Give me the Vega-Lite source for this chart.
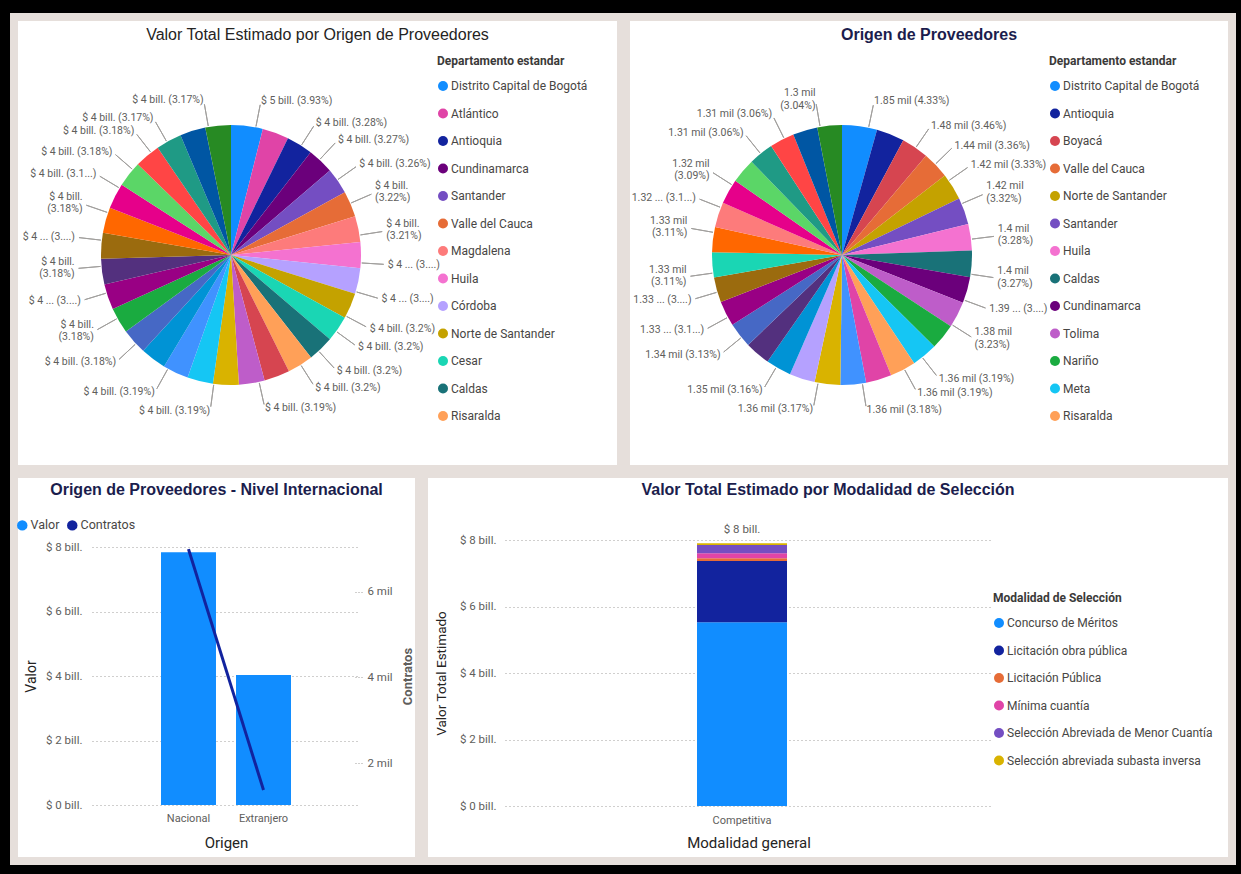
{
  "$schema": "https://vega.github.io/schema/vega-lite/v6.json",
  "background": "#000000",
  "padding": {"left": 10, "top": 13, "right": 5, "bottom": 9},
  "spacing": -3,
  "resolve": {"scale": {"color": "independent", "theta": "independent"}, "legend": {"color": "independent"}},
  "datasets": {
    "valor_dpto": [
      {"orden": 1, "departamento": "Distrito Capital de Bogotá", "valor": 4.991e12, "etiqueta": "$ 5 bill. (3.93%)"},
      {"orden": 2, "departamento": "Atlántico", "valor": 4.166e12, "etiqueta": "$ 4 bill. (3.28%)"},
      {"orden": 3, "departamento": "Antioquia", "valor": 4.153e12, "etiqueta": "$ 4 bill. (3.27%)"},
      {"orden": 4, "departamento": "Cundinamarca", "valor": 4.140e12, "etiqueta": "$ 4 bill. (3.26%)"},
      {"orden": 5, "departamento": "Santander", "valor": 4.089e12, "etiqueta": "$ 4 bill.\n(3.22%)"},
      {"orden": 6, "departamento": "Valle del Cauca", "valor": 4.077e12, "etiqueta": "$ 4 bill.\n(3.21%)"},
      {"orden": 7, "departamento": "Magdalena", "valor": 4.077e12, "etiqueta": "$ 4 ... (3....)"},
      {"orden": 8, "departamento": "Huila", "valor": 4.077e12, "etiqueta": "$ 4 ... (3....)"},
      {"orden": 9, "departamento": "Córdoba", "valor": 4.064e12, "etiqueta": "$ 4 bill. (3.2%)"},
      {"orden": 10, "departamento": "Norte de Santander", "valor": 4.064e12, "etiqueta": "$ 4 bill. (3.2%)"},
      {"orden": 11, "departamento": "Cesar", "valor": 4.064e12, "etiqueta": ""},
      {"orden": 12, "departamento": "Caldas", "valor": 4.064e12, "etiqueta": "$ 4 bill. (3.2%)"},
      {"orden": 13, "departamento": "Risaralda", "valor": 4.064e12, "etiqueta": "$ 4 bill. (3.2%)"},
      {"orden": 14, "departamento": "Boyacá", "valor": 4.051e12, "etiqueta": ""},
      {"orden": 15, "departamento": "Tolima", "valor": 4.051e12, "etiqueta": "$ 4 bill. (3.19%)"},
      {"orden": 16, "departamento": "Bolívar", "valor": 4.051e12, "etiqueta": "$ 4 bill. (3.19%)"},
      {"orden": 17, "departamento": "Meta", "valor": 4.051e12, "etiqueta": ""},
      {"orden": 18, "departamento": "Quindío", "valor": 4.051e12, "etiqueta": "$ 4 bill. (3.19%)"},
      {"orden": 19, "departamento": "Cauca", "valor": 4.051e12, "etiqueta": ""},
      {"orden": 20, "departamento": "Sucre", "valor": 4.039e12, "etiqueta": "$ 4 bill. (3.18%)"},
      {"orden": 21, "departamento": "Nariño", "valor": 4.039e12, "etiqueta": "$ 4 bill.\n(3.18%)"},
      {"orden": 22, "departamento": "La Guajira", "valor": 4.039e12, "etiqueta": "$ 4 ... (3....)"},
      {"orden": 23, "departamento": "Casanare", "valor": 4.039e12, "etiqueta": "$ 4 bill.\n(3.18%)"},
      {"orden": 24, "departamento": "Caquetá", "valor": 4.039e12, "etiqueta": "$ 4 ... (3....)"},
      {"orden": 25, "departamento": "Chocó", "valor": 4.039e12, "etiqueta": "$ 4 bill.\n(3.18%)"},
      {"orden": 26, "departamento": "Putumayo", "valor": 4.039e12, "etiqueta": "$ 4 bill. (3.1...)"},
      {"orden": 27, "departamento": "Arauca", "valor": 4.039e12, "etiqueta": "$ 4 bill. (3.18%)"},
      {"orden": 28, "departamento": "Guaviare", "valor": 4.039e12, "etiqueta": "$ 4 bill. (3.18%)"},
      {"orden": 29, "departamento": "Amazonas", "valor": 4.039e12, "etiqueta": ""},
      {"orden": 30, "departamento": "Vichada", "valor": 4.026e12, "etiqueta": "$ 4 bill. (3.17%)"},
      {"orden": 31, "departamento": "San Andrés", "valor": 4.026e12, "etiqueta": "$ 4 bill. (3.17%)"}
    ],
    "contratos_dpto": [
      {"orden": 1, "departamento": "Distrito Capital de Bogotá", "valor": 1849, "etiqueta": "1.85 mil (4.33%)"},
      {"orden": 2, "departamento": "Antioquia", "valor": 1477, "etiqueta": "1.48 mil (3.46%)"},
      {"orden": 3, "departamento": "Boyacá", "valor": 1435, "etiqueta": "1.44 mil (3.36%)"},
      {"orden": 4, "departamento": "Valle del Cauca", "valor": 1422, "etiqueta": "1.42 mil (3.33%)"},
      {"orden": 5, "departamento": "Norte de Santander", "valor": 1418, "etiqueta": "1.42 mil\n(3.32%)"},
      {"orden": 6, "departamento": "Santander", "valor": 1405, "etiqueta": ""},
      {"orden": 7, "departamento": "Huila", "valor": 1401, "etiqueta": "1.4 mil\n(3.28%)"},
      {"orden": 8, "departamento": "Caldas", "valor": 1396, "etiqueta": "1.4 mil\n(3.27%)"},
      {"orden": 9, "departamento": "Cundinamarca", "valor": 1388, "etiqueta": "1.39 ... (3....)"},
      {"orden": 10, "departamento": "Tolima", "valor": 1379, "etiqueta": "1.38 mil\n(3.23%)"},
      {"orden": 11, "departamento": "Nariño", "valor": 1366, "etiqueta": ""},
      {"orden": 12, "departamento": "Meta", "valor": 1362, "etiqueta": "1.36 mil (3.19%)"},
      {"orden": 13, "departamento": "Risaralda", "valor": 1362, "etiqueta": "1.36 mil (3.19%)"},
      {"orden": 14, "departamento": "Atlántico", "valor": 1358, "etiqueta": "1.36 mil (3.18%)"},
      {"orden": 15, "departamento": "Quindío", "valor": 1354, "etiqueta": ""},
      {"orden": 16, "departamento": "Bolívar", "valor": 1354, "etiqueta": "1.36 mil (3.17%)"},
      {"orden": 17, "departamento": "Córdoba", "valor": 1349, "etiqueta": "1.35 mil (3.16%)"},
      {"orden": 18, "departamento": "Cauca", "valor": 1341, "etiqueta": ""},
      {"orden": 19, "departamento": "Casanare", "valor": 1337, "etiqueta": "1.34 mil (3.13%)"},
      {"orden": 20, "departamento": "Sucre", "valor": 1332, "etiqueta": "1.33 ... (3.1...)"},
      {"orden": 21, "departamento": "La Guajira", "valor": 1332, "etiqueta": "1.33 ... (3....)"},
      {"orden": 22, "departamento": "Caquetá", "valor": 1328, "etiqueta": "1.33 mil\n(3.11%)"},
      {"orden": 23, "departamento": "Cesar", "valor": 1328, "etiqueta": ""},
      {"orden": 24, "departamento": "Chocó", "valor": 1328, "etiqueta": "1.33 mil\n(3.11%)"},
      {"orden": 25, "departamento": "Magdalena", "valor": 1324, "etiqueta": "1.32 ... (3.1...)"},
      {"orden": 26, "departamento": "Putumayo", "valor": 1319, "etiqueta": "1.32 mil\n(3.09%)"},
      {"orden": 27, "departamento": "Arauca", "valor": 1311, "etiqueta": ""},
      {"orden": 28, "departamento": "Amazonas", "valor": 1307, "etiqueta": "1.31 mil (3.06%)"},
      {"orden": 29, "departamento": "Guaviare", "valor": 1307, "etiqueta": "1.31 mil (3.06%)"},
      {"orden": 30, "departamento": "Vichada", "valor": 1302, "etiqueta": ""},
      {"orden": 31, "departamento": "San Andrés", "valor": 1298, "etiqueta": "1.3 mil\n(3.04%)"}
    ]
  },
  "vconcat": [
    {
      "hconcat": [
        {
          "width": 607,
          "height": 452,
          "title": {"text": "Valor Total Estimado por Origen de Proveedores", "fontWeight": "normal", "fontSize": 16, "color": "#252423", "offset": -26},
          "data": {"name": "valor_dpto"},
          "transform": [{"stack": "valor", "groupby": [], "sort": [{"field": "orden", "order": "ascending"}], "offset": "normalize", "as": ["v0", "v1"]}],
          "resolve": {"scale": {"theta": "independent"}},
          "layer": [
            {
              "mark": {"type": "arc", "outerRadius": 130},
              "encoding": {
                "x": {"value": 217},
                "y": {"value": 238},
                "theta": {"field": "v0", "type": "quantitative", "stack": null, "scale": {"domain": [0, 1]}},
                "theta2": {"field": "v1"},
                "color": {
                  "field": "departamento", "type": "nominal",
                  "scale": {
                    "domain": ["Distrito Capital de Bogotá","Atlántico","Antioquia","Cundinamarca","Santander","Valle del Cauca","Magdalena","Huila","Córdoba","Norte de Santander","Cesar","Caldas","Risaralda","Boyacá","Tolima","Bolívar","Meta","Quindío","Cauca","Sucre","Nariño","La Guajira","Casanare","Caquetá","Chocó","Putumayo","Arauca","Guaviare","Amazonas","Vichada","San Andrés"],
                    "range": ["#118DFF","#E044A7","#12239E","#6B007B","#744EC2","#E66C37","#FD7B7B","#F472D0","#B5A1FF","#C4A200","#1AD6B4","#197278","#FFA058","#D64550","#BE5DC9","#D9B300","#15C6F4","#4092FF","#0093D5","#4668C5","#1AAB40","#990084","#53307E","#9B6B0E","#FF6700","#E6008A","#5BD667","#FF4545","#1F9A85","#0056A3","#278A23"]
                  },
                  "legend": {"orient": "none", "legendX": 423, "legendY": 39, "title": "Departamento estandar", "values": ["Distrito Capital de Bogotá","Atlántico","Antioquia","Cundinamarca","Santander","Valle del Cauca","Magdalena","Huila","Córdoba","Norte de Santander","Cesar","Caldas","Risaralda"]}
                }
              }
            },
            {
              "transform": [{"filter": "datum.etiqueta != ''"}],
              "mark": {"type": "arc", "outerRadius": 153, "innerRadius": 131, "filled": false, "stroke": "#A19F9D", "strokeWidth": 1},
              "encoding": {
                "x": {"value": 217},
                "y": {"value": 238},
                "theta": {"field": "v0", "type": "quantitative", "stack": null, "scale": {"domain": [0, 0.0394, 0.0722, 0.1049, 0.1376, 0.1698, 0.2020, 0.2341, 0.2662, 0.2983, 0.3624, 0.3944, 0.4583, 0.4903, 0.5542, 0.6181, 0.6499, 0.6818, 0.7136, 0.7454, 0.7773, 0.8091, 0.8410, 0.8728, 0.9365, 0.9683], "range": [0.192, 0.571, 0.749, 0.956, 1.162, 1.417, 1.632, 1.857, 2.059, 2.199, 2.402, 2.576, 2.923, 3.274, 3.648, 3.962, 4.203, 4.416, 4.625, 4.826, 5.044, 5.253, 5.428, 5.620, 5.767, 6.109], "nice": false, "zero": false}},
                "theta2": {"field": "v0"}
              }
            },
            {
              "transform": [{"filter": "datum.etiqueta != '' && indexof(datum.etiqueta, '\\n') < 0 && datum.v0 + datum.v1 < 1"}],
              "mark": {"type": "text", "radius": 157, "align": "left", "baseline": "middle", "fontSize": 10.5, "color": "#605E5C", "lineBreak": "\n"},
              "encoding": {
                "x": {"value": 217},
                "y": {"value": 238},
                "theta": {"field": "v0", "type": "quantitative", "stack": null, "scale": {"domain": [0, 0.0394, 0.0722, 0.1049, 0.1376, 0.1698, 0.2020, 0.2341, 0.2662, 0.2983, 0.3624, 0.3944, 0.4583, 0.4903, 0.5542, 0.6181, 0.6499, 0.6818, 0.7136, 0.7454, 0.7773, 0.8091, 0.8410, 0.8728, 0.9365, 0.9683], "range": [0.192, 0.571, 0.749, 0.956, 1.162, 1.417, 1.632, 1.857, 2.059, 2.199, 2.402, 2.576, 2.923, 3.274, 3.648, 3.962, 4.203, 4.416, 4.625, 4.826, 5.044, 5.253, 5.428, 5.620, 5.767, 6.109], "nice": false, "zero": false}},
                "text": {"field": "etiqueta"}
              }
            },
            {
              "transform": [{"filter": "datum.etiqueta != '' && indexof(datum.etiqueta, '\\n') >= 0 && datum.v0 + datum.v1 < 1"}],
              "mark": {"type": "text", "radius": 157, "dy": -7, "align": "left", "baseline": "middle", "fontSize": 10.5, "color": "#605E5C", "lineBreak": "\n"},
              "encoding": {
                "x": {"value": 217},
                "y": {"value": 238},
                "theta": {"field": "v0", "type": "quantitative", "stack": null, "scale": {"domain": [0, 0.0394, 0.0722, 0.1049, 0.1376, 0.1698, 0.2020, 0.2341, 0.2662, 0.2983, 0.3624, 0.3944, 0.4583, 0.4903, 0.5542, 0.6181, 0.6499, 0.6818, 0.7136, 0.7454, 0.7773, 0.8091, 0.8410, 0.8728, 0.9365, 0.9683], "range": [0.192, 0.571, 0.749, 0.956, 1.162, 1.417, 1.632, 1.857, 2.059, 2.199, 2.402, 2.576, 2.923, 3.274, 3.648, 3.962, 4.203, 4.416, 4.625, 4.826, 5.044, 5.253, 5.428, 5.620, 5.767, 6.109], "nice": false, "zero": false}},
                "text": {"field": "etiqueta"}
              }
            },
            {
              "transform": [{"filter": "datum.etiqueta != '' && indexof(datum.etiqueta, '\\n') < 0 && datum.v0 + datum.v1 >= 1"}],
              "mark": {"type": "text", "radius": 157, "align": "right", "baseline": "middle", "fontSize": 10.5, "color": "#605E5C", "lineBreak": "\n"},
              "encoding": {
                "x": {"value": 217},
                "y": {"value": 238},
                "theta": {"field": "v0", "type": "quantitative", "stack": null, "scale": {"domain": [0, 0.0394, 0.0722, 0.1049, 0.1376, 0.1698, 0.2020, 0.2341, 0.2662, 0.2983, 0.3624, 0.3944, 0.4583, 0.4903, 0.5542, 0.6181, 0.6499, 0.6818, 0.7136, 0.7454, 0.7773, 0.8091, 0.8410, 0.8728, 0.9365, 0.9683], "range": [0.192, 0.571, 0.749, 0.956, 1.162, 1.417, 1.632, 1.857, 2.059, 2.199, 2.402, 2.576, 2.923, 3.274, 3.648, 3.962, 4.203, 4.416, 4.625, 4.826, 5.044, 5.253, 5.428, 5.620, 5.767, 6.109], "nice": false, "zero": false}},
                "text": {"field": "etiqueta"}
              }
            },
            {
              "transform": [{"filter": "datum.etiqueta != '' && indexof(datum.etiqueta, '\\n') >= 0 && datum.v0 + datum.v1 >= 1"}],
              "mark": {"type": "text", "radius": 157, "dy": -7, "align": "right", "baseline": "middle", "fontSize": 10.5, "color": "#605E5C", "lineBreak": "\n"},
              "encoding": {
                "x": {"value": 217},
                "y": {"value": 238},
                "theta": {"field": "v0", "type": "quantitative", "stack": null, "scale": {"domain": [0, 0.0394, 0.0722, 0.1049, 0.1376, 0.1698, 0.2020, 0.2341, 0.2662, 0.2983, 0.3624, 0.3944, 0.4583, 0.4903, 0.5542, 0.6181, 0.6499, 0.6818, 0.7136, 0.7454, 0.7773, 0.8091, 0.8410, 0.8728, 0.9365, 0.9683], "range": [0.192, 0.571, 0.749, 0.956, 1.162, 1.417, 1.632, 1.857, 2.059, 2.199, 2.402, 2.576, 2.923, 3.274, 3.648, 3.962, 4.203, 4.416, 4.625, 4.826, 5.044, 5.253, 5.428, 5.620, 5.767, 6.109], "nice": false, "zero": false}},
                "text": {"field": "etiqueta"}
              }
            }
          ]
        },
        {
          "width": 606,
          "height": 452,
          "title": {"text": "Origen de Proveedores", "fontWeight": "bold", "fontSize": 16, "color": "#1B1D4D", "offset": -26},
          "data": {"name": "contratos_dpto"},
          "transform": [{"stack": "valor", "groupby": [], "sort": [{"field": "orden", "order": "ascending"}], "offset": "normalize", "as": ["v0", "v1"]}],
          "resolve": {"scale": {"theta": "independent"}},
          "layer": [
            {
              "mark": {"type": "arc", "outerRadius": 130},
              "encoding": {
                "x": {"value": 216},
                "y": {"value": 238},
                "theta": {"field": "v0", "type": "quantitative", "stack": null, "scale": {"domain": [0, 1]}},
                "theta2": {"field": "v1"},
                "color": {
                  "field": "departamento", "type": "nominal",
                  "scale": {
                    "domain": ["Distrito Capital de Bogotá","Atlántico","Antioquia","Cundinamarca","Santander","Valle del Cauca","Magdalena","Huila","Córdoba","Norte de Santander","Cesar","Caldas","Risaralda","Boyacá","Tolima","Bolívar","Meta","Quindío","Cauca","Sucre","Nariño","La Guajira","Casanare","Caquetá","Chocó","Putumayo","Arauca","Guaviare","Amazonas","Vichada","San Andrés"],
                    "range": ["#118DFF","#E044A7","#12239E","#6B007B","#744EC2","#E66C37","#FD7B7B","#F472D0","#B5A1FF","#C4A200","#1AD6B4","#197278","#FFA058","#D64550","#BE5DC9","#D9B300","#15C6F4","#4092FF","#0093D5","#4668C5","#1AAB40","#990084","#53307E","#9B6B0E","#FF6700","#E6008A","#5BD667","#FF4545","#1F9A85","#0056A3","#278A23"]
                  },
                  "legend": {"orient": "none", "legendX": 423, "legendY": 39, "title": "Departamento estandar", "values": ["Distrito Capital de Bogotá","Antioquia","Boyacá","Valle del Cauca","Norte de Santander","Santander","Huila","Caldas","Cundinamarca","Tolima","Nariño","Meta","Risaralda"]}
                }
              }
            },
            {
              "transform": [{"filter": "datum.etiqueta != ''"}],
              "mark": {"type": "arc", "outerRadius": 153, "innerRadius": 131, "filled": false, "stroke": "#A19F9D", "strokeWidth": 1},
              "encoding": {
                "x": {"value": 216},
                "y": {"value": 238},
                "theta": {"field": "v0", "type": "quantitative", "stack": null, "scale": {"domain": [0, 0.0434, 0.0781, 0.1118, 0.1453, 0.2116, 0.2445, 0.2773, 0.3099, 0.3744, 0.4064, 0.4384, 0.5021, 0.5339, 0.5971, 0.6285, 0.6598, 0.6910, 0.7535, 0.7846, 0.8157, 0.8775, 0.9082, 0.9695], "range": [0.206, 0.602, 0.799, 0.962, 1.166, 1.449, 1.719, 1.925, 2.136, 2.477, 2.642, 2.985, 3.327, 3.672, 4.026, 4.213, 4.423, 4.573, 4.887, 5.086, 5.280, 5.606, 5.822, 6.114], "nice": false, "zero": false}},
                "theta2": {"field": "v0"}
              }
            },
            {
              "transform": [{"filter": "datum.etiqueta != '' && indexof(datum.etiqueta, '\\n') < 0 && datum.v0 + datum.v1 < 1"}],
              "mark": {"type": "text", "radius": 157, "align": "left", "baseline": "middle", "fontSize": 10.5, "color": "#605E5C", "lineBreak": "\n"},
              "encoding": {
                "x": {"value": 216},
                "y": {"value": 238},
                "theta": {"field": "v0", "type": "quantitative", "stack": null, "scale": {"domain": [0, 0.0434, 0.0781, 0.1118, 0.1453, 0.2116, 0.2445, 0.2773, 0.3099, 0.3744, 0.4064, 0.4384, 0.5021, 0.5339, 0.5971, 0.6285, 0.6598, 0.6910, 0.7535, 0.7846, 0.8157, 0.8775, 0.9082, 0.9695], "range": [0.206, 0.602, 0.799, 0.962, 1.166, 1.449, 1.719, 1.925, 2.136, 2.477, 2.642, 2.985, 3.327, 3.672, 4.026, 4.213, 4.423, 4.573, 4.887, 5.086, 5.280, 5.606, 5.822, 6.114], "nice": false, "zero": false}},
                "text": {"field": "etiqueta"}
              }
            },
            {
              "transform": [{"filter": "datum.etiqueta != '' && indexof(datum.etiqueta, '\\n') >= 0 && datum.v0 + datum.v1 < 1"}],
              "mark": {"type": "text", "radius": 157, "dy": -7, "align": "left", "baseline": "middle", "fontSize": 10.5, "color": "#605E5C", "lineBreak": "\n"},
              "encoding": {
                "x": {"value": 216},
                "y": {"value": 238},
                "theta": {"field": "v0", "type": "quantitative", "stack": null, "scale": {"domain": [0, 0.0434, 0.0781, 0.1118, 0.1453, 0.2116, 0.2445, 0.2773, 0.3099, 0.3744, 0.4064, 0.4384, 0.5021, 0.5339, 0.5971, 0.6285, 0.6598, 0.6910, 0.7535, 0.7846, 0.8157, 0.8775, 0.9082, 0.9695], "range": [0.206, 0.602, 0.799, 0.962, 1.166, 1.449, 1.719, 1.925, 2.136, 2.477, 2.642, 2.985, 3.327, 3.672, 4.026, 4.213, 4.423, 4.573, 4.887, 5.086, 5.280, 5.606, 5.822, 6.114], "nice": false, "zero": false}},
                "text": {"field": "etiqueta"}
              }
            },
            {
              "transform": [{"filter": "datum.etiqueta != '' && indexof(datum.etiqueta, '\\n') < 0 && datum.v0 + datum.v1 >= 1"}],
              "mark": {"type": "text", "radius": 157, "align": "right", "baseline": "middle", "fontSize": 10.5, "color": "#605E5C", "lineBreak": "\n"},
              "encoding": {
                "x": {"value": 216},
                "y": {"value": 238},
                "theta": {"field": "v0", "type": "quantitative", "stack": null, "scale": {"domain": [0, 0.0434, 0.0781, 0.1118, 0.1453, 0.2116, 0.2445, 0.2773, 0.3099, 0.3744, 0.4064, 0.4384, 0.5021, 0.5339, 0.5971, 0.6285, 0.6598, 0.6910, 0.7535, 0.7846, 0.8157, 0.8775, 0.9082, 0.9695], "range": [0.206, 0.602, 0.799, 0.962, 1.166, 1.449, 1.719, 1.925, 2.136, 2.477, 2.642, 2.985, 3.327, 3.672, 4.026, 4.213, 4.423, 4.573, 4.887, 5.086, 5.280, 5.606, 5.822, 6.114], "nice": false, "zero": false}},
                "text": {"field": "etiqueta"}
              }
            },
            {
              "transform": [{"filter": "datum.etiqueta != '' && indexof(datum.etiqueta, '\\n') >= 0 && datum.v0 + datum.v1 >= 1"}],
              "mark": {"type": "text", "radius": 157, "dy": -7, "align": "right", "baseline": "middle", "fontSize": 10.5, "color": "#605E5C", "lineBreak": "\n"},
              "encoding": {
                "x": {"value": 216},
                "y": {"value": 238},
                "theta": {"field": "v0", "type": "quantitative", "stack": null, "scale": {"domain": [0, 0.0434, 0.0781, 0.1118, 0.1453, 0.2116, 0.2445, 0.2773, 0.3099, 0.3744, 0.4064, 0.4384, 0.5021, 0.5339, 0.5971, 0.6285, 0.6598, 0.6910, 0.7535, 0.7846, 0.8157, 0.8775, 0.9082, 0.9695], "range": [0.206, 0.602, 0.799, 0.962, 1.166, 1.449, 1.719, 1.925, 2.136, 2.477, 2.642, 2.985, 3.327, 3.672, 4.026, 4.213, 4.423, 4.573, 4.887, 5.086, 5.280, 5.606, 5.822, 6.114], "nice": false, "zero": false}},
                "text": {"field": "etiqueta"}
              }
            }
          ]
        }
      ],
      "spacing": 5,
      "bounds": "flush",
      "resolve": {"scale": {"color": "independent", "theta": "independent"}, "legend": {"color": "independent"}}
    },
    {
      "hconcat": [
        {
          "width": 405,
          "height": 387,
          "title": {"text": "Origen de Proveedores - Nivel Internacional", "fontWeight": "bold", "fontSize": 16, "color": "#1B1D4D", "offset": -24},
          "data": {"values": [
            {"origen": "Nacional", "valor": 7.84e12, "contratos": 7000},
            {"origen": "Extranjero", "valor": 4.03e12, "contratos": 1370}
          ]},
          "encoding": {
            "x": {
              "field": "origen", "type": "nominal", "sort": ["Nacional", "Extranjero"],
              "scale": {"range": [78, 346], "paddingInner": 0.267, "paddingOuter": 0.92},
              "axis": {"title": "Origen", "labelAngle": 0, "offset": -56, "labelPadding": 7, "titlePadding": 12, "titleFontSize": 15, "labelFontSize": 11}
            }
          },
          "layer": [
            {
              "mark": {"type": "bar"},
              "encoding": {
                "y": {
                  "field": "valor", "type": "quantitative",
                  "scale": {"domain": [0, 8e12], "range": [331, 73], "nice": false},
                  "axis": {"orient": "left", "offset": -76, "values": [0, 2e12, 4e12, 6e12, 8e12], "labelExpr": "'$ ' + format(datum.value / 1e12, 'd') + ' bill.'", "grid": true, "gridDash": [1, 3], "gridColor": "#A19F9D", "labelPadding": 8, "title": "Valor", "titlePadding": 7, "titleFontSize": 14}
                },
                "color": {
                  "datum": "Valor",
                  "scale": {"domain": ["Valor", "Contratos"], "range": ["#118DFF", "#12239E"]},
                  "legend": {"orient": "none", "legendX": 2, "legendY": 45, "direction": "horizontal", "title": null, "columnPadding": 6, "symbolSize": 110, "labelFontSize": 12.5}
                }
              }
            },
            {
              "mark": {"type": "line", "strokeWidth": 3},
              "encoding": {
                "y": {
                  "field": "contratos", "type": "quantitative",
                  "scale": {"domain": [1020, 7050], "range": [331, 73], "nice": false, "zero": false},
                  "axis": {"orient": "right", "offset": -64, "values": [2000, 4000, 6000], "labelExpr": "format(datum.value / 1000, 'd') + ' mil'", "ticks": true, "tickDash": [1, 2], "tickSize": 7, "tickColor": "#A19F9D", "labelPadding": 5, "title": "Contratos", "titleAngle": 270, "titleBaseline": "top", "titleFontWeight": "bold", "titleColor": "#605E5C", "titlePadding": 10, "titleFontSize": 13}
                },
                "color": {"datum": "Contratos"}
              }
            }
          ],
          "resolve": {"scale": {"y": "independent"}}
        },
        {
          "width": 808,
          "height": 387,
          "title": {"text": "Valor Total Estimado por Modalidad de Selección", "fontWeight": "bold", "fontSize": 16, "color": "#1B1D4D", "offset": -24},
          "data": {"values": [
            {"modalidad_general": "Competitiva", "modalidad": "Concurso de Méritos", "orden": 1, "valor": 5.53e12},
            {"modalidad_general": "Competitiva", "modalidad": "Licitación obra pública", "orden": 2, "valor": 1.84e12},
            {"modalidad_general": "Competitiva", "modalidad": "Licitación Pública", "orden": 3, "valor": 0.08e12},
            {"modalidad_general": "Competitiva", "modalidad": "Mínima cuantía", "orden": 4, "valor": 0.15e12},
            {"modalidad_general": "Competitiva", "modalidad": "Selección Abreviada de Menor Cuantía", "orden": 5, "valor": 0.25e12},
            {"modalidad_general": "Competitiva", "modalidad": "Selección abreviada subasta inversa", "orden": 6, "valor": 0.05e12}
          ]},
          "encoding": {
            "x": {
              "field": "modalidad_general", "type": "nominal",
              "scale": {"range": [81, 568], "paddingInner": 0, "paddingOuter": 1, "align": 0.48},
              "axis": {"title": "Modalidad general", "labelAngle": 0, "offset": -55, "labelPadding": 8, "titlePadding": 10, "titleFontSize": 15, "labelFontSize": 11}
            }
          },
          "layer": [
            {
              "mark": {"type": "bar", "width": 90},
              "encoding": {
                "y": {
                  "field": "valor", "type": "quantitative",
                  "scale": {"domain": [0, 8e12], "range": [332, 66], "nice": false},
                  "axis": {"orient": "left", "offset": -78, "values": [0, 2e12, 4e12, 6e12, 8e12], "labelExpr": "'$ ' + format(datum.value / 1e12, 'd') + ' bill.'", "grid": true, "gridDash": [1, 3], "gridColor": "#A19F9D", "labelPadding": 6, "title": "Valor Total Estimado", "titlePadding": 11, "titleFontSize": 13.5}
                },
                "color": {
                  "field": "modalidad", "type": "nominal",
                  "scale": {"domain": ["Concurso de Méritos", "Licitación obra pública", "Licitación Pública", "Mínima cuantía", "Selección Abreviada de Menor Cuantía", "Selección abreviada subasta inversa"], "range": ["#118DFF", "#12239E", "#E66C37", "#E044A7", "#744EC2", "#D9B300"]},
                  "legend": {"orient": "none", "legendX": 569, "legendY": 119, "title": "Modalidad de Selección", "labelLimit": 320}
                },
                "order": {"field": "orden", "type": "quantitative"}
              }
            },
            {
              "transform": [{"aggregate": [{"op": "sum", "field": "valor", "as": "total"}], "groupby": ["modalidad_general"]}],
              "mark": {"type": "text", "dy": -13, "baseline": "middle", "fontSize": 11.5, "color": "#605E5C"},
              "encoding": {
                "y": {"field": "total", "type": "quantitative", "title": "Valor Total Estimado"},
                "text": {"value": "$ 8 bill."}
              }
            }
          ]
        }
      ],
      "spacing": 5,
      "bounds": "flush",
      "resolve": {"scale": {"color": "independent"}, "legend": {"color": "independent"}}
    }
  ],
  "config": {
    "view": {"fill": "#FFFFFF", "stroke": "#E6DFDB", "strokeWidth": 8},
    "font": "Roboto",
    "title": {"font": "Liberation Sans", "anchor": "middle"},
    "axis": {"labelFont": "Roboto", "labelFontSize": 11.5, "labelColor": "#605E5C", "titleFont": "Roboto", "titleFontWeight": "normal", "titleColor": "#252423", "domain": false, "ticks": false},
    "legend": {"labelFont": "Roboto", "labelFontSize": 12, "labelColor": "#484644", "titleFont": "Roboto", "titleFontSize": 12, "titleColor": "#3B3A39", "titleFontWeight": "bold", "symbolType": "circle", "symbolSize": 100, "symbolStrokeWidth": 0, "rowPadding": 15.5, "titlePadding": 12, "labelLimit": 250, "labelOffset": 2}
  }
}
